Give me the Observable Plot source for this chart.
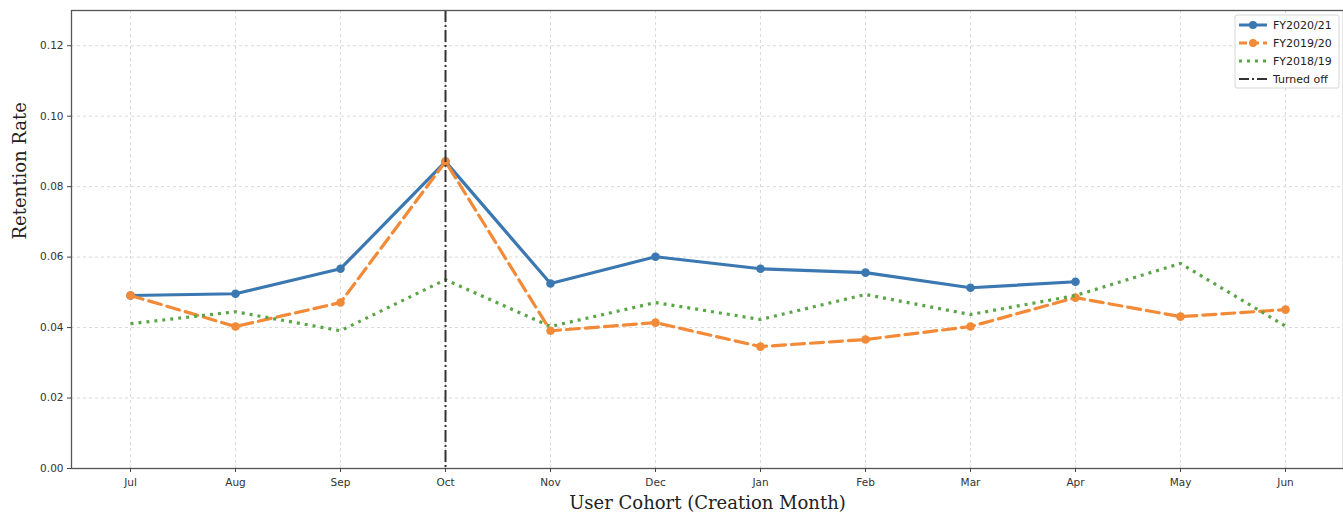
<!DOCTYPE html>
<html>
<head>
<meta charset="utf-8">
<script src="https://cdn.jsdelivr.net/npm/d3@7"></script>
<script src="https://cdn.jsdelivr.net/npm/@observablehq/plot@0.6"></script>
<style>
  html, body { margin: 0; padding: 0; background: #fff; }
  #chart svg { display: block; }
</style>
</head>
<body>
<div id="chart"></div>
<script>
const months = ["Jul","Aug","Sep","Oct","Nov","Dec","Jan","Feb","Mar","Apr","May","Jun"];
const fy2021 = [0.0491,0.0496,0.0567,0.0871,0.0525,0.0601,0.0567,0.0556,0.0513,0.0530];
const fy1920 = [0.0491,0.0403,0.0471,0.0871,0.0391,0.0414,0.0346,0.0366,0.0403,0.0485,0.0431,0.0451];
const fy1819 = [0.0411,0.0445,0.0391,0.0536,0.0403,0.0471,0.0423,0.0494,0.0437,0.0491,0.0582,0.0404];
const yTicks = [0,0.02,0.04,0.06,0.08,0.10,0.12];
const turnedOff = ["Oct"];

const colors = {"FY2020/21":"#3b78b1","FY2019/20":"#f28a37","FY2018/19":"#5aa547"};
const rows = (name, arr) => arr.map((v,i) => ({series:name, month:months[i], value:v}));
const d21 = rows("FY2020/21", fy2021);
const d20 = rows("FY2019/20", fy1920);
const d19 = rows("FY2018/19", fy1819);

const chart = Plot.plot({
  width: 1343, height: 513,
  marginLeft: 71, marginTop: 10, marginRight: 0, marginBottom: 45,
  style: {fontFamily: "DejaVu Sans", background: "#fff"},
  x: {type: "point", domain: months, padding: 0.55},
  y: {domain: [0, 0.13]},
  marks: [
    Plot.gridX(months, {stroke: "#d0d0d0", strokeOpacity: 1, strokeDasharray: "3,3", strokeWidth: 0.8}),
    Plot.gridY(yTicks, {stroke: "#d0d0d0", strokeOpacity: 1, strokeDasharray: "3,3", strokeWidth: 0.8}),
    Plot.line(d21, {x: "month", y: "value", stroke: colors["FY2020/21"], strokeWidth: 3.2}),
    Plot.dot(d21, {x: "month", y: "value", fill: colors["FY2020/21"], r: 4.3}),
    Plot.line(d20, {x: "month", y: "value", stroke: colors["FY2019/20"], strokeWidth: 3.2, strokeDasharray: "13,6"}),
    Plot.dot(d20, {x: "month", y: "value", fill: colors["FY2019/20"], r: 4.3}),
    Plot.line(d19, {x: "month", y: "value", stroke: colors["FY2018/19"], strokeWidth: 3.2, strokeDasharray: "3,5", strokeLinecap: "butt"}),
    Plot.ruleX(turnedOff, {stroke: "#333", strokeWidth: 2, strokeDasharray: "12,3,2,3"}),
    Plot.frame({stroke: "#555", strokeWidth: 1.3}),
    Plot.axisX(months, {tickSize: 4, tickPadding: 6, fontSize: 10.5, label: null, stroke: "#444", fill: "#333"}),
    Plot.axisY(yTicks, {tickSize: 4, tickPadding: 4, fontSize: 10.5, label: null, tickFormat: d => d.toFixed(2), stroke: "#444", fill: "#333"}),
    Plot.text(["User Cohort (Creation Month)"], {frameAnchor: "bottom", dy: 40, fontSize: 18, fontFamily: "DejaVu Serif", fill: "#222"}),
    Plot.text(["Retention Rate"], {frameAnchor: "left", dx: -51, rotate: -90, fontSize: 18, fontFamily: "DejaVu Serif", fill: "#222"})
  ]
});

// Legend inside the axes (top-right)
const svg = d3.select(chart);
const lg = svg.append("g").attr("transform", "translate(1235,15)").attr("text-anchor", "start");
lg.append("rect").attr("x", 0).attr("y", 0).attr("width", 104).attr("height", 73)
  .attr("rx", 2).attr("fill", "#fff").attr("fill-opacity", 0.85).attr("stroke", "#d6d6d6");
const items = [
  {label: "FY2020/21", color: colors["FY2020/21"], dash: null, marker: true, w: 3},
  {label: "FY2019/20", color: colors["FY2019/20"], dash: "8,4", marker: true, w: 3},
  {label: "FY2018/19", color: colors["FY2018/19"], dash: "3,5", marker: false, w: 3},
  {label: "Turned off", color: "#333", dash: "10,3,2,3", marker: false, w: 2}
];
items.forEach((it, i) => {
  const y = 10 + i * 18;
  const l = lg.append("line").attr("x1", 4).attr("x2", 32).attr("y1", y).attr("y2", y)
    .attr("stroke", it.color).attr("stroke-width", it.w);
  if (it.dash) l.attr("stroke-dasharray", it.dash);
  if (it.marker) lg.append("circle").attr("cx", 18).attr("cy", y).attr("r", 4).attr("fill", it.color);
  lg.append("text").attr("x", 38).attr("y", y).attr("dy", "0.35em").attr("text-anchor", "start")
    .attr("font-family", "DejaVu Sans").attr("font-size", 11).attr("fill", "#222").text(it.label);
});

document.getElementById("chart").appendChild(chart);
</script>
</body>
</html>
